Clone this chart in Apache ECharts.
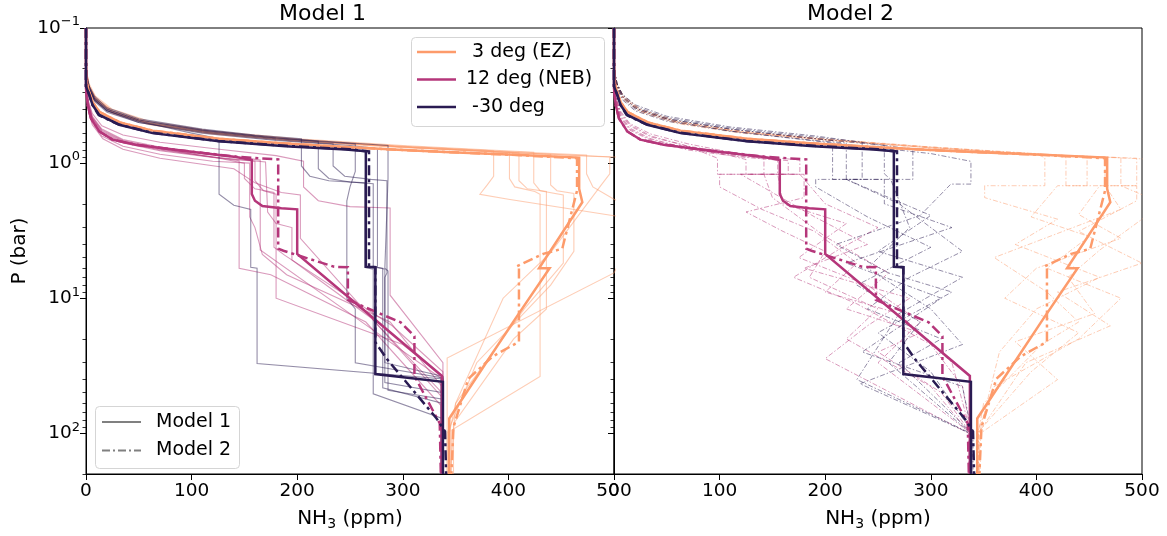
<!DOCTYPE html>
<html><head><meta charset="utf-8">
<script src="https://cdn.jsdelivr.net/npm/echarts@6/dist/echarts.min.js"></script>
<style>html,body{margin:0;padding:0;background:#fff}#c{width:1167px;height:536px}</style>
</head><body><div id="c"></div>
<script>
// ---------- axis ticks ----------
const xTicks = [0, 100, 200, 300, 400, 500];
const yMajor = [0.1, 1, 10, 100];
const yMinor = [0.2,0.3,0.4,0.5,0.6,0.7,0.8,0.9,2,3,4,5,6,7,8,9,20,30,40,50,60,70,80,90,200];
const panelTitles = ['Model 1', 'Model 2'];
const legendLat = [' 3 deg (EZ)', '12 deg (NEB)', ' -30 deg'];
const legendModel = ['Model 1', 'Model 2'];

// ---------- bold retrieved profiles [NH3 ppm, P bar] ----------
const ez_model1 = [[0,0.1],[0,0.18],[1,0.26],[3,0.3],[6.5,0.355],[13,0.42],[32,0.5],[63,0.575],[126,0.66],[189,0.715],[246,0.76],[300,0.8],[345,0.83],[400,0.865],[467,0.91],[467,1.55],[470,1.95],[429,6.0],[439,6.0],[406,14.4],[375,33.4],[344,77.6],[344,200]];
const ez_model2 = [[0,0.1],[0,0.18],[1,0.26],[3,0.3],[6.5,0.356],[13,0.42],[32,0.5],[63,0.575],[126,0.66],[189,0.716],[246,0.76],[300,0.8],[345,0.83],[400,0.866],[465,0.92],[465,1.6],[451,4.3],[433,4.7],[408,5.8],[410,5.9],[410,21],[385,27],[362,39.5],[348,90],[346,200]];
const neb_model1 = [[0,0.1],[0,0.28],[1.6,0.372],[4.7,0.466],[12.6,0.583],[25,0.67],[47,0.73],[95,0.817],[142,0.9],[157,0.95],[157,1.69],[160,1.9],[167,2.08],[185,2.16],[200,2.2],[200,4.7],[337,37.6],[337,200]];
const neb_model2 = [[0,0.1],[0,0.28],[1.6,0.372],[4.7,0.466],[12.6,0.583],[25,0.67],[47,0.73],[95,0.815],[142,0.895],[182,0.94],[182,4.3],[187,4.45],[235,5.85],[248,5.9],[248,10.3],[298,15.1],[311,19.1],[311,37.6],[335,84.5],[336,200]];
const s30_model1 = [[0,0.1],[0,0.27],[3.1,0.314],[6.3,0.372],[12.6,0.44],[31.5,0.52],[63,0.6],[126,0.69],[189,0.75],[246,0.794],[265,0.817],[265,5.85],[274,5.9],[274,36.4],[338,41.6],[338,200]];
const s30_model2 = [[0,0.1],[0,0.27],[3,0.31],[6,0.37],[12,0.44],[30,0.515],[62,0.595],[125,0.685],[190,0.745],[250,0.79],[268,0.82],[268,5.85],[274,5.9],[274,21.2],[285,28.2],[332,77.6],[340,96.7],[341,200]];

// ---------- Model 1 ensemble (left panel, thin solid) ----------
const ez_runs1 = [
 [[0,0.1],[0,0.2],[3,0.27],[9,0.33],[25,0.41],[60,0.5],[120,0.59],[200,0.67],[300,0.75],[386,0.81],[386,1.25],[380,1.45],[373,1.7],[400,1.85],[500,2.45],[560,2.9]],
 [[0,0.1],[0,0.21],[3,0.28],[9,0.34],[25,0.42],[60,0.51],[120,0.6],[200,0.68],[300,0.76],[401,0.83],[401,1.3],[406,1.5],[425,1.62],[430,1.7],[430,38],[346,95],[346,200]],
 [[0,0.1],[0,0.2],[3,0.26],[9,0.32],[25,0.4],[60,0.49],[120,0.58],[200,0.66],[300,0.74],[424,0.83],[424,1.4],[430,1.6],[452,1.72],[452,5.5],[415,12],[350,60],[344,100],[344,200]],
 [[0,0.1],[0,0.22],[3,0.29],[9,0.35],[25,0.43],[60,0.52],[120,0.61],[200,0.69],[300,0.77],[440,0.86],[440,1.45],[446,1.6],[462,1.68],[462,4.5],[440,8],[370,30],[342,100],[342,200]],
 [[0,0.1],[0,0.21],[3,0.27],[9,0.33],[25,0.41],[60,0.5],[120,0.59],[200,0.67],[300,0.75],[400,0.82],[474,0.87],[474,1.2],[480,1.5],[500,1.85],[540,2.6]],
 [[0,0.1],[0,0.2],[3,0.27],[9,0.33],[25,0.42],[60,0.51],[120,0.6],[200,0.68],[300,0.76],[400,0.84],[496,0.9],[496,1.2],[488,1.45],[440,4.6],[395,10],[350,60],[345,200]],
 [[0,0.1],[0,0.22],[3,0.28],[9,0.34],[25,0.42],[60,0.51],[120,0.6],[200,0.68],[300,0.76],[400,0.83],[500,0.9],[530,0.92],[530,2.2],[500,6.5],[342,27.7],[342,200]],
 [[0,0.1],[0,0.21],[3,0.28],[9,0.34],[25,0.42],[60,0.51],[120,0.6],[200,0.68],[300,0.76],[410,0.84],[410,1.35],[418,1.55],[436,1.62],[436,12],[405,20],[348,85],[348,200]]
];
const neb_runs1 = [
 [[0,0.1],[0,0.26],[2,0.35],[6,0.45],[15,0.56],[35,0.67],[70,0.76],[120,0.85],[165,0.95],[165,4.4],[250,13],[338,40],[338,200]],
 [[0,0.1],[0,0.27],[2,0.36],[6,0.46],[15,0.58],[35,0.69],[70,0.79],[120,0.9],[150,1.0],[150,1.3],[160,1.55],[178,1.65],[178,4.2],[188,4.8],[290,16],[338,35],[338,200]],
 [[0,0.1],[0,0.28],[2,0.37],[6,0.47],[15,0.59],[35,0.7],[70,0.8],[120,0.9],[170,0.98],[172,2.3],[180,2.8],[195,3.0],[195,5.2],[270,14],[337,50],[337,200]],
 [[0,0.1],[0,0.3],[2,0.4],[6,0.52],[16,0.66],[35,0.79],[70,0.92],[110,1.02],[140,1.1],[160,1.4],[185,1.65],[203,1.72],[203,3.6],[338,55],[338,200]],
 [[0,0.1],[0,0.26],[2,0.34],[6,0.43],[15,0.53],[35,0.62],[70,0.7],[120,0.78],[180,0.88],[206,0.97],[206,1.5],[220,1.9],[250,2.1],[288,2.15],[288,9.5],[338,30],[338,200]],
 [[0,0.1],[0,0.27],[2,0.36],[6,0.46],[15,0.57],[35,0.68],[70,0.78],[110,0.88],[145,0.96],[145,6],[175,6.7],[265,15],[336,62],[336,200]],
 [[0,0.1],[0,0.29],[2,0.39],[6,0.5],[15,0.63],[35,0.75],[70,0.86],[120,0.97],[155,1.0],[155,2.5],[160,3.0],[167,4.75],[190,6.7],[288,15],[337,45],[337,200]],
 [[0,0.1],[0,0.28],[2,0.38],[6,0.49],[15,0.6],[35,0.71],[70,0.81],[120,0.91],[160,0.97],[160,1.35],[168,1.6],[180,1.7],[180,10],[300,22],[338,38],[338,200]]
];
const s30_runs1 = [
 [[0,0.1],[0,0.22],[3,0.28],[8,0.34],[20,0.41],[50,0.49],[100,0.6],[126,0.66],[126,1.7],[140,2.05],[156,2.2],[156,5.9],[162,6.0],[162,30.4],[336,39.5],[336,200]],
 [[0,0.1],[0,0.21],[3,0.27],[8,0.32],[20,0.39],[50,0.47],[110,0.56],[160,0.62],[204,0.66],[204,1.05],[212,1.25],[230,1.35],[264,1.4],[264,5.9],[272,6.1],[272,51],[338,78],[338,200]],
 [[0,0.1],[0,0.22],[3,0.28],[8,0.33],[20,0.4],[50,0.48],[110,0.57],[170,0.64],[220,0.69],[220,1.1],[230,1.3],[250,1.38],[272,1.42],[272,5.9],[281,6],[281,46],[338,60],[338,200]],
 [[0,0.1],[0,0.23],[3,0.29],[8,0.35],[20,0.42],[50,0.5],[110,0.59],[180,0.67],[234,0.72],[234,1.05],[245,1.25],[270,1.32],[285,1.35],[285,6.5],[283,7],[283,30],[338,38],[338,200]],
 [[0,0.1],[0,0.22],[3,0.28],[8,0.34],[20,0.41],[50,0.49],[110,0.58],[180,0.66],[255,0.72],[255,1.15],[250,1.5],[247,1.9],[247,10],[255,12],[255,30],[338,39],[338,200]],
 [[0,0.1],[0,0.21],[3,0.27],[8,0.33],[20,0.4],[50,0.48],[110,0.57],[180,0.65],[250,0.71],[286,0.74],[286,1.3],[283,6],[286,6.3],[286,48],[338,56],[338,200]],
 [[0,0.1],[0,0.22],[3,0.28],[8,0.34],[20,0.41],[50,0.5],[110,0.6],[180,0.68],[250,0.74],[276,0.78],[276,1.4],[276,5.9],[283,6.1],[283,42],[338,50],[338,200]]
];

// ---------- Model 2 ensemble (right panel, thin dash-dot) ----------
const ez_runs2 = [
 [[0,0.1],[0,0.2],[3,0.26],[9,0.32],[25,0.4],[60,0.49],[120,0.58],[200,0.66],[300,0.76],[400,0.86],[408,0.91],[408,1.47],[351,1.47],[351,1.8],[420,2.6],[380,4],[460,7],[400,12],[365,25],[346,100],[346,200]],
 [[0,0.1],[0,0.21],[3,0.27],[9,0.33],[25,0.41],[60,0.5],[120,0.59],[200,0.67],[300,0.76],[400,0.85],[428,0.91],[428,1.47],[495,1.47],[495,1.9],[440,3.2],[500,5.5],[420,9],[470,16],[390,30],[345,100],[345,200]],
 [[0,0.1],[0,0.2],[3,0.27],[9,0.33],[25,0.41],[60,0.5],[120,0.59],[200,0.67],[300,0.77],[400,0.86],[448,0.91],[448,1.47],[420,1.47],[395,2.5],[450,3.5],[410,6],[480,10],[440,20],[360,45],[344,100],[344,200]],
 [[0,0.1],[0,0.22],[3,0.28],[9,0.34],[25,0.42],[60,0.51],[120,0.6],[200,0.68],[300,0.77],[400,0.86],[465,0.91],[465,1.47],[480,2.2],[360,5],[410,9],[440,15],[405,22],[350,60],[345,100],[345,200]],
 [[0,0.1],[0,0.21],[3,0.27],[9,0.33],[25,0.41],[60,0.5],[120,0.59],[200,0.67],[300,0.76],[400,0.86],[480,0.91],[480,1.47],[520,2.0],[460,4.4],[430,7],[455,13],[380,21],[420,40],[347,100],[347,200]],
 [[0,0.1],[0,0.2],[3,0.26],[9,0.32],[25,0.4],[60,0.49],[120,0.58],[200,0.67],[300,0.77],[400,0.87],[495,0.92],[495,1.47],[460,1.47],[440,2.4],[480,3.6],[400,6],[370,10],[440,18],[395,35],[344,100],[344,200]],
 [[0,0.1],[0,0.21],[3,0.27],[9,0.33],[25,0.41],[60,0.5],[120,0.59],[200,0.67],[300,0.77],[400,0.86],[500,0.93],[540,0.95]]
];
const neb_runs2 = [
 [[0,0.1],[0,0.25],[2,0.33],[6,0.42],[15,0.52],[35,0.63],[70,0.75],[98,0.92],[98,1.21],[180,1.21],[180,1.8],[125,2.3],[160,3.2],[200,4.5],[185,7],[250,12],[220,20],[300,45],[337,100],[337,200]],
 [[0,0.1],[0,0.26],[2,0.34],[6,0.44],[15,0.55],[35,0.66],[70,0.78],[110,0.88],[125,0.94],[125,1.21],[155,1.21],[160,2],[220,2.8],[175,5],[240,8],[290,15],[250,30],[338,100],[338,200]],
 [[0,0.1],[0,0.24],[2,0.32],[6,0.41],[15,0.51],[35,0.61],[70,0.72],[110,0.83],[142,0.93],[142,1.21],[100,1.21],[100,1.5],[140,2.2],[190,3.2],[230,5.5],[200,9],[270,13],[320,30],[338,100],[338,200]],
 [[0,0.1],[0,0.27],[2,0.36],[6,0.46],[15,0.57],[35,0.68],[70,0.8],[120,0.9],[155,0.95],[155,1.21],[176,1.21],[200,2.0],[250,3.0],[210,4.5],[170,7],[230,11],[300,22],[330,45],[338,100],[338,200]],
 [[0,0.1],[0,0.25],[2,0.33],[6,0.43],[15,0.53],[35,0.64],[70,0.75],[120,0.86],[176,0.95],[176,1.21],[142,1.21],[150,1.8],[200,3.5],[260,6.5],[220,12],[290,18],[250,25],[310,50],[338,100],[338,200]],
 [[0,0.1],[0,0.26],[2,0.35],[6,0.45],[15,0.56],[35,0.67],[70,0.78],[120,0.89],[165,0.96],[165,1.21],[120,1.21],[190,2.5],[240,4],[180,6],[280,10],[240,16],[200,28],[336,100],[336,200]]
];
const s30_runs2 = [
 [[0,0.1],[0,0.2],[3,0.26],[8,0.31],[20,0.37],[50,0.45],[110,0.54],[191,0.63],[283,0.79],[283,1.32],[191,1.32],[191,1.5],[240,2.5],[300,4.2],[230,8],[290,15],[260,30],[338,100],[338,200]],
 [[0,0.1],[0,0.21],[3,0.27],[8,0.32],[20,0.39],[50,0.47],[110,0.56],[207,0.68],[207,1.32],[256,1.32],[256,2],[320,3],[220,5.5],[310,10],[235,25],[330,45],[339,100],[339,200]],
 [[0,0.1],[0,0.2],[3,0.26],[8,0.31],[20,0.38],[50,0.46],[110,0.55],[180,0.63],[235,0.7],[235,1.32],[220,1.32],[300,2.44],[250,4.5],[330,7],[270,13],[230,40],[338,100],[338,200]],
 [[0,0.1],[0,0.21],[3,0.27],[8,0.33],[20,0.4],[50,0.48],[110,0.58],[200,0.7],[300,0.85],[338,0.97],[338,1.43],[319,1.43],[290,2.44],[210,4],[260,6.5],[320,9],[250,18],[300,35],[340,100],[340,200]],
 [[0,0.1],[0,0.2],[3,0.26],[8,0.32],[20,0.39],[50,0.47],[110,0.56],[190,0.66],[256,0.74],[256,1.2],[262,1.32],[280,3],[240,6],[300,12],[330,22],[233,43],[337,100],[337,200]],
 [[0,0.1],[0,0.21],[3,0.28],[8,0.34],[20,0.41],[50,0.49],[110,0.58],[190,0.68],[220,0.71],[220,1.32],[270,2],[330,4.5],[280,7],[240,12],[310,20],[270,30],[339,100],[339,200]]
];

// ---------- styling ----------
const colEZ = '#fd9b6b', colNEB = '#b5367a', colS30 = '#2a1b52';
const FONT = 'DejaVu Sans';
const dashBold = [10, 4, 3, 4];
const dashThin = [5, 2, 1.5, 2];
const TICK_FS = 18.5, NAME_FS = 20, LEG_FS = 19, TITLE_FS = 22;

function ln(data, color, width, dash, opacity, gi, z) {
  return { type: 'line', data: data, xAxisIndex: gi, yAxisIndex: gi * 2, symbol: 'none',
    silent: true, animation: false, clip: true, z: z,
    lineStyle: { color: color, width: width, type: dash || 'solid', opacity: opacity, cap: 'butt', join: 'miter' } };
}

const series = [];
[[ez_runs1, colEZ], [neb_runs1, colNEB], [s30_runs1, colS30]].forEach(([runs, c]) =>
  runs.forEach(r => series.push(ln(r, c, 1.1, 'solid', 0.5, 0, 2))));
[[ez_runs2, colEZ], [neb_runs2, colNEB], [s30_runs2, colS30]].forEach(([runs, c]) =>
  runs.forEach(r => series.push(ln(r, c, 1, dashThin, 0.5, 1, 2))));
[0, 1].forEach(gi => {
  series.push(ln(ez_model1, colEZ, 2.5, 'solid', 1, gi, 5));
  series.push(ln(ez_model2, colEZ, 2.5, dashBold, 1, gi, 5));
  series.push(ln(neb_model1, colNEB, 2.5, 'solid', 1, gi, 6));
  series.push(ln(neb_model2, colNEB, 2.5, dashBold, 1, gi, 6));
  series.push(ln(s30_model1, colS30, 2.5, 'solid', 1, gi, 7));
  series.push(ln(s30_model2, colS30, 2.5, dashBold, 1, gi, 7));
});

const supStr = v => { const e = Math.round(Math.log10(v)); return '10{sup|' + (e < 0 ? '\u2212' + (-e) : e) + '}'; };

function xAx(gi) {
  return { type: 'value', gridIndex: gi, min: 0, max: 500, interval: 100,
    name: 'NH{sub|3} (ppm)', nameLocation: 'middle', nameGap: 32,
    nameTextStyle: { color: '#000', fontSize: NAME_FS, fontFamily: FONT,
      rich: { sub: { fontSize: 14, fontFamily: FONT, color: '#000', verticalAlign: 'bottom', padding: [11, 0, 0, 0] } } },
    axisLine: { show: true, lineStyle: { color: '#000', width: 1 } },
    axisTick: { show: true, length: 6, inside: false, lineStyle: { color: '#000' } },
    axisLabel: { color: '#000', fontSize: TICK_FS, fontFamily: FONT, margin: 8, showMinLabel: true, showMaxLabel: true },
    splitLine: { show: false } };
}
function yMaj(gi, labels) {
  return { type: 'log', logBase: 10, gridIndex: gi, min: 0.1, max: 200, inverse: true,
    name: labels ? 'P (bar)' : '', nameLocation: 'middle', nameGap: 56, nameRotate: 90,
    nameTextStyle: { color: '#000', fontSize: NAME_FS, fontFamily: FONT },
    axisLine: { show: true, lineStyle: { color: '#000', width: 1 } },
    axisTick: { show: true, length: 6, customValues: yMajor, lineStyle: { color: '#000' } },
    axisLabel: { show: labels, customValues: yMajor, formatter: supStr, color: '#000', fontSize: TICK_FS, fontFamily: FONT, margin: 6,
      rich: { sup: { fontSize: 13, fontFamily: FONT, color: '#000', verticalAlign: 'bottom', padding: [0, 0, 12, 0] } } },
    splitLine: { show: false } };
}
function yMin(gi) {
  return { type: 'log', logBase: 10, gridIndex: gi, min: 0.1, max: 200, inverse: true, position: 'left',
    axisLine: { show: false },
    axisTick: { show: true, length: 3.5, customValues: yMinor, lineStyle: { color: '#000', width: 0.8 } },
    axisLabel: { show: false }, splitLine: { show: false } };
}

const legendBox = { x: 411, y: 37, w: 193, h: 89 };
const modelBox = { x: 95, y: 406, w: 144, h: 62 };
const graphics = [
  { type: 'text', left: 279, top: 3, style: { text: panelTitles[0], fontSize: TITLE_FS, fontFamily: FONT, fill: '#000' } },
  { type: 'text', left: 807, top: 3, style: { text: panelTitles[1], fontSize: TITLE_FS, fontFamily: FONT, fill: '#000' } },
  { type: 'rect', shape: { x: legendBox.x + 0.5, y: legendBox.y + 0.5, width: legendBox.w, height: legendBox.h, r: 4 },
    style: { fill: 'rgba(255,255,255,0.8)', stroke: '#d5d5d5', lineWidth: 1 }, z: 100 },
  { type: 'rect', shape: { x: modelBox.x + 0.5, y: modelBox.y + 0.5, width: modelBox.w, height: modelBox.h, r: 4 },
    style: { fill: 'rgba(255,255,255,0.8)', stroke: '#d5d5d5', lineWidth: 1 }, z: 100 }
];
[colEZ, colNEB, colS30].forEach((c, i) => {
  const yy = 52 + i * 27.5;
  graphics.push({ type: 'line', shape: { x1: 417, y1: yy, x2: 456, y2: yy }, style: { stroke: c, lineWidth: 2.5 }, z: 101 });
  graphics.push({ type: 'text', x: 466, y: yy, style: { text: legendLat[i], fontSize: LEG_FS, fontFamily: FONT, fill: '#000', textVerticalAlign: 'middle', whiteSpace: 'pre' }, z: 101 });
});
legendModel.forEach((t, i) => {
  const yy = 422 + i * 28.5;
  graphics.push({ type: 'line', shape: { x1: 102, y1: yy, x2: 141, y2: yy },
    style: { stroke: '#808080', lineWidth: 2, lineDash: i ? [8, 3, 2, 3] : null }, z: 101 });
  graphics.push({ type: 'text', x: 156, y: yy, style: { text: t, fontSize: LEG_FS, fontFamily: FONT, fill: '#000', textVerticalAlign: 'middle' }, z: 101 });
});

const chart = echarts.init(document.getElementById('c'), null, { renderer: 'canvas' });
chart.setOption({
  backgroundColor: '#fff',
  animation: false,
  grid: [
    { left: 86, top: 28, width: 528, height: 449, show: true, borderColor: '#000', borderWidth: 1, backgroundColor: 'transparent' },
    { left: 614, top: 28, width: 528, height: 449, show: true, borderColor: '#000', borderWidth: 1, backgroundColor: 'transparent' }
  ],
  xAxis: [xAx(0), xAx(1)],
  yAxis: [yMaj(0, true), yMin(0), yMaj(1, false), yMin(1)],
  series: series,
  graphic: graphics
});
</script>
</body></html>
